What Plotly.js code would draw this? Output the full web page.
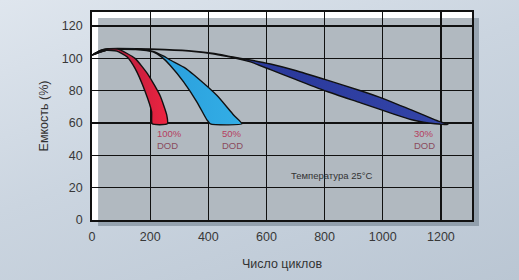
<!DOCTYPE html>
<html>
<head>
<meta charset="utf-8">
<script src="https://cdn.plot.ly/plotly-3.0.1.min.js"></script>
<style>
html,body{margin:0;padding:0;}
body{width:519px;height:280px;overflow:hidden;
background:linear-gradient(160deg,#dfe6ee 0%,#cbd5e0 45%,#bac6d3 100%);}
#chart{width:519px;height:280px;}
</style>
</head>
<body>
<div id="chart"></div>
<script>
// 30% DOD band (upper edge then lower edge), cycles vs capacity %
const dod30TopX = [0, 30, 60, 150, 250, 350, 420, 480, 545, 614, 700, 809, 924, 1004, 1100, 1180, 1225];
const dod30TopY = [102, 105, 106, 106, 105.5, 104.5, 103, 101, 99, 96.5, 92.5, 86.5, 80, 75, 68, 62, 59];
const dod30BotX = [1180, 1140, 1100, 1038, 924, 809, 700, 614, 545, 480, 420, 350, 250, 150, 60, 30, 0];
const dod30BotY = [59.6, 60.5, 62, 65.5, 72.5, 79.5, 87, 93, 97.8, 100.6, 102.7, 104.3, 105.3, 105.8, 105.6, 104, 102];

// 50% DOD band
const dod50TopX = [0, 30, 60, 150, 210, 245, 269, 321, 349, 430, 487, 516];
const dod50TopY = [102, 105, 106, 105.8, 104.3, 101.5, 99, 94, 90, 77, 65, 59.5];
const dod50BotX = [407, 395, 361, 315, 270, 240, 210, 150, 60, 30, 0];
const dod50BotY = [59.5, 62, 73, 85.5, 95.5, 100.8, 104, 105.5, 105.5, 104, 102];

// 100% DOD band
const dod100TopX = [0, 40, 90, 148, 194, 234, 257, 259];
const dod100TopY = [102, 105.5, 105.7, 100, 89.7, 77, 65, 59.5];
const dod100BotX = [207, 205, 183, 148, 120, 85, 50, 20, 0];
const dod100BotY = [59.5, 67, 79.4, 93.8, 101, 104.5, 105, 103.5, 102];

const xTicks = [0, 200, 400, 600, 800, 1000, 1200];
const yTicks = [0, 20, 40, 60, 80, 100, 120];

const labels = [
  {pct: '100%', x: 215},
  {pct: '50%', x: 441},
  {pct: '30%', x: 1100}
];

function band(xa, ya, xb, yb, color, grad, name) {
  const t = {
    x: xa.concat(xb), y: ya.concat(yb),
    type: 'scatter', mode: 'lines', fill: 'toself',
    fillcolor: color, name: name,
    line: {color: '#111', width: 1.4, shape: 'spline', smoothing: 0.5},
    hoverinfo: 'skip', showlegend: false
  };
  if (grad) t.fillgradient = {type: 'horizontal', colorscale: grad};
  return t;
}

const data = [
  band(dod30TopX, dod30TopY, dod30BotX, dod30BotY, '#2c3a9c',
       [[0, '#26338f'], [0.6, '#2c3b9e'], [1, '#3445a8']], '30% DOD'),
  band(dod50TopX, dod50TopY, dod50BotX, dod50BotY, '#29a4de',
       [[0, '#1f6fb0'], [0.45, '#2a9fdc'], [1, '#33aee6']], '50% DOD'),
  band(dod100TopX, dod100TopY, dod100BotX, dod100BotY, '#e0223f',
       [[0, '#8e1c3c'], [0.55, '#c81f3e'], [1, '#ee2440']], '100% DOD')
];

const tickFont = {family: 'Liberation Sans, Arial, sans-serif', size: 12.5, color: '#383838'};

const annotations = labels.map(l => ({
  x: l.x, y: 49.8, xref: 'x', yref: 'y', xanchor: 'left', yanchor: 'middle',
  showarrow: false, align: 'left',
  text: '<span style="color:#b5405f">' + l.pct + '</span><br><span style="color:#8a4b5e">DOD</span>',
  font: {family: 'Liberation Sans, Arial, sans-serif', size: 9.5}
}));
annotations.push({
  x: 825, y: 27.8, xref: 'x', yref: 'y', xanchor: 'center', yanchor: 'middle',
  showarrow: false, text: 'Температура 25°C',
  font: {family: 'Liberation Sans, Arial, sans-serif', size: 9.5, color: '#333'}
});

const layout = {
  width: 519, height: 280,
  margin: {l: 92, r: 47, t: 12, b: 60, pad: 0},
  paper_bgcolor: 'rgba(0,0,0,0)',
  plot_bgcolor: '#ffffff',
  xaxis: {
    range: [0, 1307], tickvals: xTicks, ticktext: xTicks.map(String),
    showgrid: true, gridcolor: '#111', gridwidth: 1.3,
    showline: true, linecolor: '#111', linewidth: 1.8, mirror: true,
    zeroline: false, ticks: '', tickfont: tickFont, ticklabelstandoff: 4,
    title: {text: 'Число циклов', font: {family: 'Liberation Sans, Arial, sans-serif', size: 12.5, color: '#333'}, standoff: 16},
    fixedrange: true
  },
  yaxis: {
    range: [0, 128.7], tickvals: yTicks, ticktext: yTicks.map(String),
    showgrid: true, gridcolor: '#111', gridwidth: 1.3,
    showline: true, linecolor: '#111', linewidth: 1.8, mirror: true,
    zeroline: false, ticks: '', tickfont: tickFont, ticklabelstandoff: 5,
    title: {text: 'Емкость (%)', font: {family: 'Liberation Sans, Arial, sans-serif', size: 12.5, color: '#333'}, standoff: 10},
    fixedrange: true
  },
  shapes: [{
    type: 'rect', xref: 'paper', yref: 'paper', layer: 'below',
    x0: 0.016, x1: 1.0184, y0: -0.0288, y1: 0.971,
    fillcolor: 'rgba(100,115,130,0.5)', line: {width: 0}
  }],
  annotations: annotations,
  showlegend: false
};

Plotly.newPlot('chart', data, layout, {displayModeBar: false, staticPlot: true});
</script>
</body>
</html>
